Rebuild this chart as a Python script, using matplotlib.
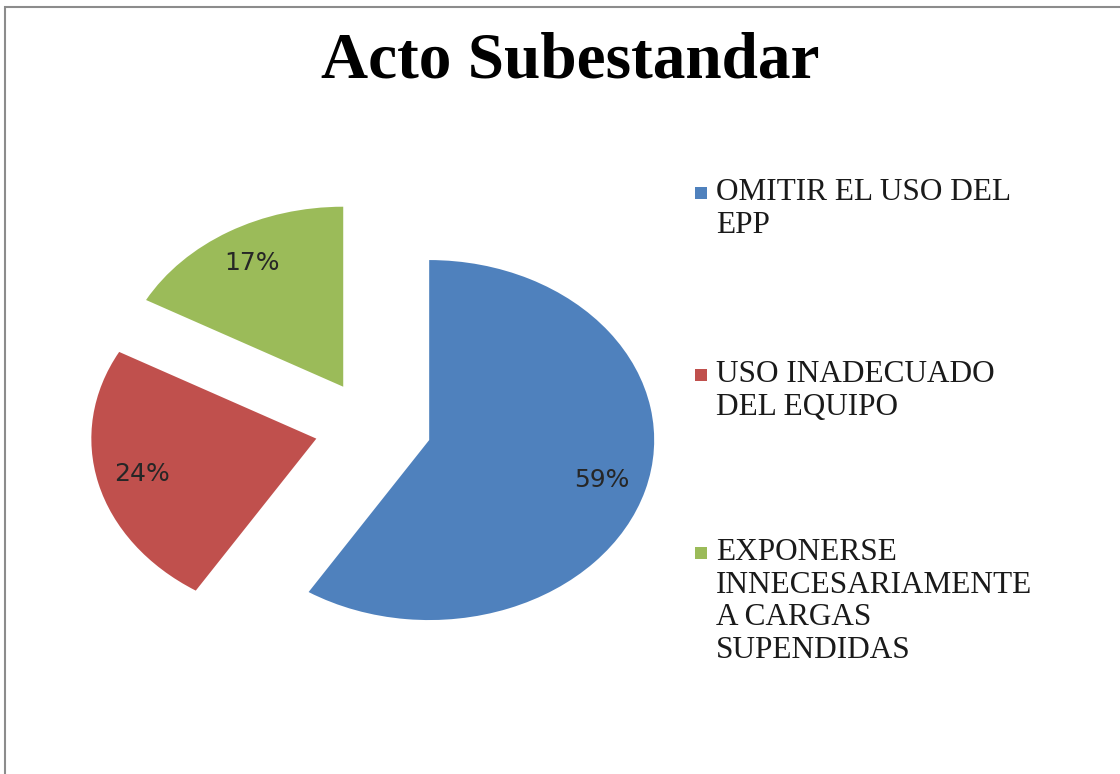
import matplotlib
matplotlib.use("Agg")
import matplotlib.pyplot as plt
from matplotlib.patches import Rectangle

# Datos del gráfico
categorias = [
    "OMITIR EL USO DEL\nEPP",
    "USO INADECUADO\nDEL EQUIPO",
    "EXPONERSE\nINNECESARIAMENTE\nA CARGAS\nSUPENDIDAS",
]
porcentajes = [59, 24, 17]
colores = ["#4F81BD", "#C0504D", "#9BBB59"]

W, H = 1120, 774
fig = plt.figure(figsize=(W / 100, H / 100), dpi=100)

# Marco del área del gráfico
fig.add_artist(Rectangle((5 / W, -0.05), 1.2, 1.05 - 7 / H,
                         transform=fig.transFigure, fill=False,
                         edgecolor="#8c8c8c", linewidth=1.5))

fig.text(570 / W, 1 - 62 / H, "Acto Subestandar", ha="center", va="center",
         fontsize=47, fontweight="bold", family="Liberation Serif")

# Pastel elíptico con todas las porciones separadas
ax = fig.add_axes([58 / W, 95 / H, 630 / W, 504 / H])
wedges, textos, pcts = ax.pie(
    porcentajes, colors=colores, startangle=90, counterclock=False,
    explode=[0.26] * len(porcentajes), autopct="%1.0f%%", pctdistance=0.8,
    wedgeprops=dict(linewidth=0), textprops=dict(fontsize=18, color="#262626"),
)
ax.set_aspect("auto")
ax.set_xlim(-1.4, 1.4)
ax.set_ylim(-1.4, 1.4)

# Leyenda manual a la derecha
ys = [193, 375, 553]
for w, cat, y in zip(wedges, categorias, ys):
    fig.add_artist(Rectangle((695 / W, 1 - (y + 6) / H), 12 / W, 12 / H,
                             transform=fig.transFigure,
                             facecolor=w.get_facecolor(), edgecolor="none"))
    fig.text(716 / W, 1 - (y - 15) / H, cat, ha="left", va="top",
             fontsize=22.5, family="Liberation Serif", color="#1a1a1a",
             linespacing=1.17)

plt.savefig("out.png", dpi=100)
